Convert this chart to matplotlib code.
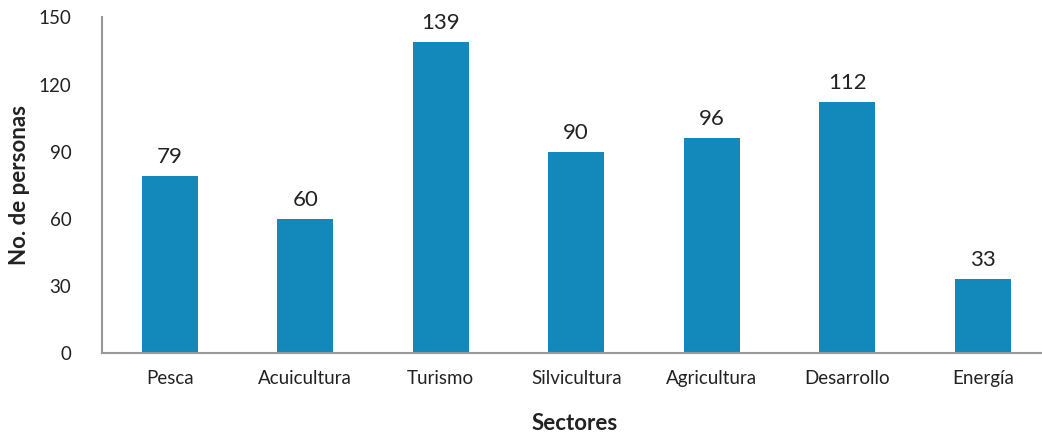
import matplotlib.pyplot as plt

sectores = ['Pesca', 'Acuicultura', 'Turismo', 'Silvicultura', 'Agricultura', 'Desarrollo', 'Energía']
personas = [79, 60, 139, 90, 96, 112, 33]
yticks = [0, 30, 60, 90, 120, 150]

plt.rcParams['font.family'] = ['Lato', 'DejaVu Sans']

fig = plt.figure(figsize=(10.42, 4.34), dpi=100)
# axes run a little past the right edge so the baseline reaches the border
ax = fig.add_axes([102 / 1042, 1 - 353 / 434, 948.5 / 1042, 335.6 / 434])

x = range(len(sectores))
bars = ax.bar(x, personas, width=0.41, color='#1389bb')
for b, v in zip(bars, personas):
    ax.text(b.get_x() + b.get_width() / 2, v + 4, str(v), ha='center', va='bottom',
            fontsize=16, color='#222222')

ax.set_xlim(-0.5, 6.5)
ax.set_ylim(0, 150)
ax.set_yticks(yticks)
ax.set_xticks(list(x))
ax.set_xticklabels(sectores)
ax.tick_params(axis='both', length=0, labelsize=13.5, colors='#222222')
ax.tick_params(axis='y', pad=22)
ax.tick_params(axis='x', pad=12)

for s in ['top', 'right']:
    ax.spines[s].set_visible(False)
for s in ['left', 'bottom']:
    ax.spines[s].set_color('#999999')
    ax.spines[s].set_linewidth(1.5)

ax.set_ylabel('No. de personas', fontsize=16, fontweight='bold', color='#222222')
ax.set_xlabel('Sectores', fontsize=16, fontweight='bold', color='#222222')
ax.xaxis.label.set_va('center')
ax.yaxis.label.set_va('center')
ax.xaxis.set_label_coords(473 / 948.5, -70 / 335.6)
ax.yaxis.set_label_coords(-82 / 948.5, 0.5)

fig.savefig('out.png', dpi=100)
